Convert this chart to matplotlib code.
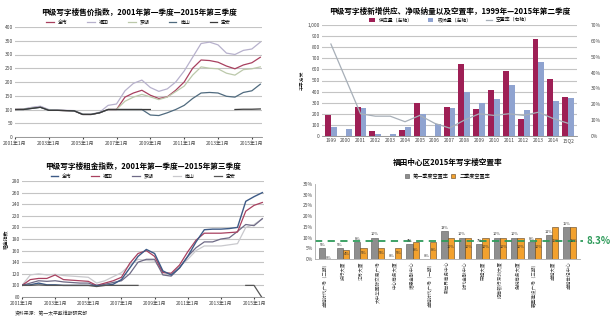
import numpy as np
import matplotlib
matplotlib.use('Agg')
import matplotlib.pyplot as plt

plt.rcParams['font.family'] = ['Noto Sans CJK SC', 'DejaVu Sans']
plt.rcParams['axes.unicode_minus'] = False

# 半年度时间点（2001年1月 ~ 2015年7月）
t_half = np.arange(2001.0, 2015.51, 0.5)
year_ticks = [2001, 2003, 2005, 2007, 2009, 2011, 2013, 2015]
year_labels = ['2001年1月', '2003年1月', '2005年1月', '2007年1月',
               '2009年1月', '2011年1月', '2013年1月', '2015年1月']
district_names = ['全市', '福田', '罗湖', '南山', '宝安']
nan = np.nan

# 甲级写字楼售价指数
price_futian = [100, 102, 108, 112, 100, 98, 97, 96, 84, 83, 90, 115, 120, 168, 195,
                207, 180, 166, 175, 200, 240, 290, 340, 345, 335, 305, 300, 315, 320, 345]
price_all = [100, 101, 106, 110, 98, 97, 96, 95, 82, 82, 88, 100, 100, 145, 160,
             170, 152, 140, 146, 170, 200, 250, 280, 278, 272, 258, 248, 262, 270, 290]
price_luohu = [100, 101, 105, 108, 98, 97, 96, 95, 83, 82, 88, 100, 100, 130, 145,
               155, 146, 136, 145, 165, 185, 225, 255, 250, 248, 232, 225, 245, 248, 255]
price_nanshan = [100, 100, 104, 108, 97, 97, 96, 95, 82, 82, 88, 100, 100, 100, 100,
                 100, 80, 78, 88, 100, 115, 140, 160, 162, 160, 148, 145, 162, 168, 192]
price_baoan = [100, 100, 104, 108, 97, 97, 96, 95, 82, 82, 88, 100, 100, 100, 100,
               100, 100, nan, nan, nan, nan, nan, nan, nan, nan, nan, 100, 101, 101, 102]

# 甲级写字楼租金指数
rent_all = [100, 101, 104, 101, 101, 100, 100, 100, 100, 100, 100, 102, 110, 130, 150,
            162, 155, 125, 118, 130, 150, 175, 196, 197, 197, 198, 200, 245, 253, 260]
rent_futian = [100, 110, 112, 112, 118, 110, 109, 108, 107, 100, 104, 108, 114, 138, 155,
               160, 150, 122, 121, 135, 158, 178, 190, 190, 190, 191, 192, 228, 238, 243]
rent_luohu = [100, 104, 108, 107, 108, 106, 105, 104, 104, 99, 102, 105, 108, 120, 140,
              145, 145, 118, 116, 130, 150, 165, 175, 175, 180, 182, 193, 205, 203, 215]
rent_nanshan = [100, 118, 120, 118, 119, 117, 116, 115, 114, 104, 108, 115, 122, 135, 145,
                143, 142, 123, 120, 132, 145, 160, 168, 168, 168, 170, 172, 200, 205, 215]
rent_baoan = [100, 100, 101, 100, 100, 100, 100, 100, 100, 98, 100, 100, 100, 100, 100,
              nan, nan, nan, nan, nan, nan, nan, nan, nan, nan, nan, nan, 100, 100, 78]

# 新增供应、净吸纳量及空置率
supply_years = ['1999', '2000', '2001', '2002', '2003', '2004', '2005', '2006', '2007',
                '2008', '2009', '2010', '2011', '2012', '2013', '2014', '15Q2']
new_supply = [190, 0, 265, 45, 0, 50, 300, 0, 265, 645, 240, 410, 590, 150, 870, 515, 355]
net_absorption = [80, 65, 255, 15, 20, 85, 195, 110, 255, 395, 300, 330, 455, 235, 665, 315, 345]
vacancy_rate = [58, 36, 14, 12.5, 12.5, 9, 13, 8, 5, 10, 14, 13, 14, 13, 15, 11, 8]

# 福田中心区2015年写字楼空置率
buildings = ['卓越时代广场（二期）', '投行大厦', '江苏大厦', '大中华国际交易广场', '中心商务大厦',
             '诺德金融中心', '卓越时代广场（一期）', '新世界商务中心', '时代金融中心', '荣超大厦',
             '招商银行深圳大厦', '免税商务大厦', '嘉里建设广场（三期）', '卓越大厦', '卓越世纪中心']
vac_q1 = [5, 5, 8, 10, 0, 7, 0, 13, 10, 7, 10, 10, 8, 11, 15]
vac_q2 = [0, 4, 5, 5, 5, 8, 8, 10, 10, 10, 10, 10, 10, 15, 15]
vac_avg = 8.3

W, H = 614, 335
fig = plt.figure(figsize=(W / 100, H / 100), dpi=100)


def box(x0, y0, x1, y1):
    return [x0 / W, 1 - y1 / H, (x1 - x0) / W, (y1 - y0) / H]


def clean(ax):
    for s in ['top', 'right', 'left']:
        ax.spines[s].set_visible(False)
    ax.spines['bottom'].set_color('#888888')
    ax.spines['bottom'].set_linewidth(0.6)
    ax.tick_params(length=0, labelsize=3.5, colors='#444444', pad=1.5)
    ax.grid(axis='y', color='#C4C4C4', linewidth=0.8)
    ax.set_axisbelow(True)


# ---- 售价指数 ----
ax1 = fig.add_axes(box(15, 27, 262, 137))
clean(ax1)
ax1.plot(t_half, price_all, color='#A8405F', lw=0.9, label=district_names[0])
ax1.plot(t_half, price_futian, color='#B7B1CC', lw=0.9, label=district_names[1])
ax1.plot(t_half, price_luohu, color='#BCC9AB', lw=0.9, label=district_names[2])
ax1.plot(t_half, price_nanshan, color='#4F6A7E', lw=0.9, label=district_names[3])
ax1.plot(t_half, price_baoan, color='#3A3A3A', lw=0.9, label=district_names[4])
ax1.set_xlim(2001, 2015.6)
ax1.set_ylim(0, 400)
ax1.set_yticks(range(0, 401, 50))
ax1.set_xticks(year_ticks)
ax1.set_xticklabels(year_labels)
ax1.tick_params(axis='x', bottom=True, length=1.5)
ax1.legend(loc='lower center', bbox_to_anchor=(0.5, 1.0), ncol=5, frameon=False,
           fontsize=3.5, handlelength=1.6, columnspacing=4, borderpad=0)
ax1.set_title('甲级写字楼售价指数，2001年第一季度—2015年第三季度',
              fontsize=5.5, fontweight='bold', pad=9)

# ---- 新增供应 ----
ax2 = fig.add_axes(box(322, 25, 577, 136))
clean(ax2)
x = np.arange(len(supply_years))
bw = 0.4
ax2.bar(x - bw / 2, new_supply, bw, color='#9E1F55', label='供应量（左轴）')
ax2.bar(x + bw / 2, net_absorption, bw, color='#8FA3D0', label='吸纳量（左轴）')
ax2.set_ylim(0, 1000)
ax2.set_yticks(range(0, 1001, 100))
ax2.set_yticklabels([f'{v:,}' for v in range(0, 1001, 100)])
ax2.set_xticks(x)
ax2.set_xticklabels(supply_years)
ax2.set_xlim(-0.6, len(x) - 0.4)
ax2.set_ylabel('千平方米', fontsize=3.5, labelpad=2)
ax2r = ax2.twinx()
ax2r.plot(x, vacancy_rate, color='#A7AFB8', lw=0.9, label='空置率（右轴）')
ax2r.set_ylim(0, 70)
ax2r.set_yticks(range(0, 71, 10))
ax2r.set_yticklabels([f'{v}%' for v in range(0, 71, 10)])
for s in ax2r.spines.values():
    s.set_visible(False)
ax2r.tick_params(length=0, labelsize=3.5, colors='#444444', pad=10)
h1, l1 = ax2.get_legend_handles_labels()
h2, l2 = ax2r.get_legend_handles_labels()
ax2.legend(h1 + h2, l1 + l2, loc='lower center', bbox_to_anchor=(0.5, 1.0), ncol=3,
           frameon=False, fontsize=3.5, handlelength=1.2, columnspacing=3, borderpad=0)
ax2.set_title('甲级写字楼新增供应、净吸纳量以及空置率，1999年—2015年第二季度',
              fontsize=5.5, fontweight='bold', pad=8)

# ---- 租金指数 ----
ax3 = fig.add_axes(box(22, 181, 264, 297))
clean(ax3)
ax3.plot(t_half, rent_nanshan, color='#C9C9CD', lw=0.9, label=district_names[3])
ax3.plot(t_half, rent_luohu, color='#6E6A86', lw=0.9, label=district_names[2])
ax3.plot(t_half, rent_futian, color='#A8405F', lw=0.9, label=district_names[1])
ax3.plot(t_half, rent_all, color='#3D5A86', lw=1.0, label=district_names[0])
ax3.plot(t_half, rent_baoan, color='#555555', lw=0.9, label=district_names[4])
hs, ls = ax3.get_legend_handles_labels()
order = [3, 2, 1, 0, 4]
ax3.legend([hs[i] for i in order], [ls[i] for i in order], loc='lower center',
           bbox_to_anchor=(0.5, 1.0), ncol=5, frameon=False, fontsize=3.5,
           handlelength=1.6, columnspacing=4, borderpad=0)
ax3.set_xlim(2001, 2015.6)
ax3.set_ylim(80, 280)
ax3.set_yticks(range(80, 281, 20))
ax3.set_xticks(year_ticks)
ax3.set_xticklabels(year_labels)
ax3.tick_params(axis='x', bottom=True, length=1.5)
ax3.set_ylabel('租金指数', fontsize=3.5, labelpad=2)
ax3.set_title('甲级写字楼租金指数，2001年第一季度—2015年第三季度',
              fontsize=5.5, fontweight='bold', pad=9)
fig.text(15 / W, 1 - 314 / H, '资料来源：第一太平戴维斯研究部', fontsize=3.5,
         color='#333333', va='center')

# ---- 福田中心区空置率 ----
ax4 = fig.add_axes(box(315, 184, 580, 259))
for s in ['top', 'right']:
    ax4.spines[s].set_visible(False)
for s in ['left', 'bottom']:
    ax4.spines[s].set_color('#AAAAAA')
    ax4.spines[s].set_linewidth(0.6)
ax4.tick_params(length=0, labelsize=3.5, colors='#444444', pad=1.5)
xb = np.arange(len(buildings))
bw = 0.36
ax4.bar(xb - bw / 2, vac_q1, bw, color='#8E8E8E', edgecolor='#555555', lw=0.4,
        label='第一季度空置率')
ax4.bar(xb + bw / 2, vac_q2, bw, color='#F2A12E', edgecolor='#5A4020', lw=0.4,
        label='二季度空置率')
for i in range(len(buildings)):
    ax4.text(xb[i] - bw / 2, vac_q1[i] + 0.6, f'{vac_q1[i]}%', ha='center', va='bottom',
             fontsize=2.8, color='#333333')
    ax4.text(xb[i] + bw / 2 + 0.02, max(vac_q2[i] * 0.55, 0.3), f'{vac_q2[i]}%',
             ha='center', va='center', fontsize=2.8, color='#333333')
ax4.axhline(vac_avg, color='#2E9B5A', lw=1.3, ls=(0, (4, 3)), xmin=0, xmax=1.01,
            clip_on=False)
ax4.text(1.025, vac_avg, f'{vac_avg}%', transform=ax4.get_yaxis_transform(),
         color='#2E9B5A', fontsize=7, fontweight='bold', va='center', ha='left')
ax4.set_ylim(0, 35)
ax4.set_yticks(range(0, 36, 5))
ax4.set_yticklabels([f'{v}%' for v in range(0, 36, 5)])
ax4.set_xlim(-0.6, len(xb) - 0.4)
ax4.set_xticks(xb)
ax4.set_xticklabels(buildings, rotation=90, fontsize=3.3)
ax4.legend(loc='lower center', bbox_to_anchor=(0.5, 1.03), ncol=2, frameon=False,
           fontsize=3.7, handlelength=0.8, handleheight=0.8, columnspacing=0.5,
           borderpad=0)
ax4.set_title('福田中心区2015年写字楼空置率', fontsize=5.5, fontweight='bold', pad=14)

fig.savefig('out.png', dpi=100, facecolor='white')
